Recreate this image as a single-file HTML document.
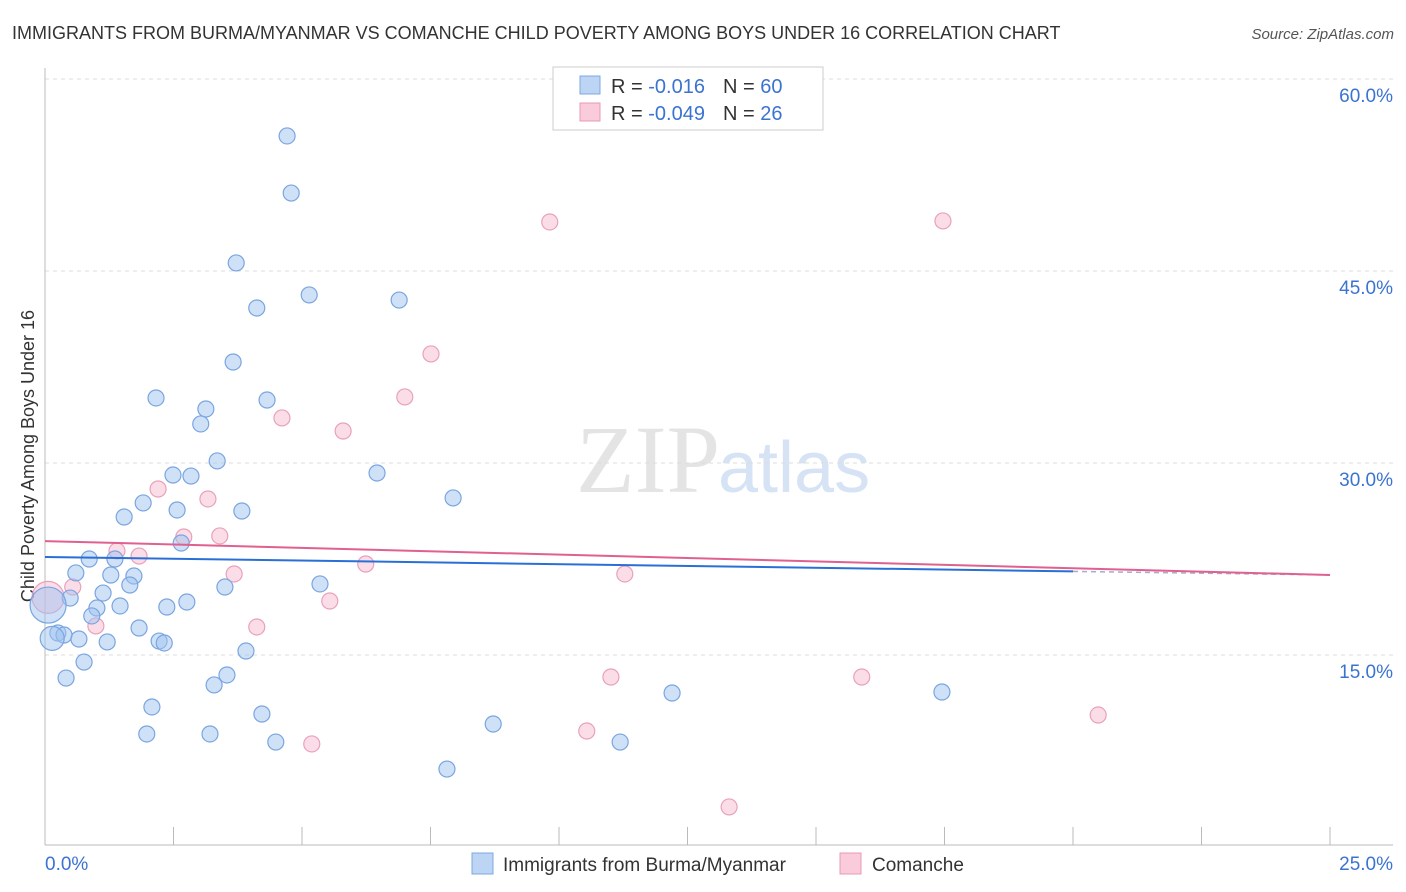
<!DOCTYPE html>
<html><head><meta charset="utf-8"><style>
body{margin:0;background:#fff;font-family:"Liberation Sans",sans-serif}
#wrap{position:relative;width:1406px;height:892px;overflow:hidden}
</style></head><body>
<div id="wrap">
<svg id="svg" width="1406" height="892" xmlns="http://www.w3.org/2000/svg">
<text x="12" y="39" font-size="18" fill="#333">IMMIGRANTS FROM BURMA/MYANMAR VS COMANCHE CHILD POVERTY AMONG BOYS UNDER 16 CORRELATION CHART</text>
<text x="1394" y="39" font-size="15" fill="#555" font-style="italic" text-anchor="end">Source: ZipAtlas.com</text>
<text x="720" y="492" font-size="96" fill="#e4e4e4" text-anchor="end" font-family="Liberation Serif,serif">ZIP</text>
<text x="718" y="492" font-size="72" fill="#d6e3f5">atlas</text>
<text transform="translate(34,456) rotate(-90)" font-size="18" fill="#333" text-anchor="middle">Child Poverty Among Boys Under 16</text>
<g id="grid"></g><g id="axes"></g><g id="marks"></g>
<g>
<rect x="553" y="67" width="270" height="63" fill="#fff" stroke="#ccc"/>
<rect x="580" y="76" width="20" height="18" fill="#bcd5f5" stroke="#7fa8e0"/>
<text x="611" y="93" font-size="20" fill="#333">R = <tspan fill="#3b73d1">-0.016</tspan><tspan dx="18">N = </tspan><tspan fill="#3b73d1">60</tspan></text>
<rect x="580" y="103" width="20" height="18" fill="#f9cbdb" stroke="#e899b5"/>
<text x="611" y="120" font-size="20" fill="#333">R = <tspan fill="#3b73d1">-0.049</tspan><tspan dx="18">N = </tspan><tspan fill="#3b73d1"> 26</tspan></text>
</g>
<g>
<rect x="472" y="853" width="21" height="21" fill="#bcd5f5" stroke="#7fa8e0"/>
<text x="503" y="871" font-size="19" fill="#333">Immigrants from Burma/Myanmar</text>
<rect x="840" y="853" width="21" height="21" fill="#f9cbdb" stroke="#e899b5"/>
<text x="872" y="871" font-size="19" fill="#333">Comanche</text>
</g>
</svg>
</div>
<script>
const xTicks=[0,2.5,5,7.5,10,12.5,15,17.5,20,22.5,25];
const yTicks=[15,30,45,60];
const blueX=[4.71,4.79,3.72,5.14,4.12,6.89,3.66,2.16,4.32,3.13,3.03,3.35,6.46,2.49,2.84,7.94,1.91,2.57,3.83,1.54,2.65,0.86,1.36,0.60,1.28,1.73,5.35,3.50,1.65,1.13,0.49,2.76,1.01,1.46,2.37,0.91,1.83,0.25,0.37,0.66,1.21,2.22,2.32,3.91,0.76,3.54,0.41,3.29,12.20,17.45,2.08,4.22,1.98,3.21,4.49,11.19,8.72,7.82,0.06,0.14];
const blueY=[55.55,51.09,45.63,43.13,42.11,42.73,37.89,35.08,34.92,34.22,33.05,30.16,29.22,29.06,28.98,27.27,26.88,26.33,26.25,25.78,23.75,22.5,22.5,21.41,21.25,21.17,20.55,20.31,20.47,19.84,19.45,19.14,18.67,18.83,18.75,18.05,17.11,16.72,16.56,16.25,16.02,16.09,15.94,15.31,14.45,13.44,13.2,12.66,12.03,12.11,10.94,10.39,8.83,8.83,8.2,8.2,9.61,6.09,18.9,16.3];
const blueR=[];for(let i=0;i<blueX.length;i++)blueR.push(i==58?18:(i==59?12:8));
const pinkX=[9.82,17.47,7.51,7.0,4.61,5.8,2.2,3.17,2.7,3.4,1.4,1.83,6.24,3.68,11.28,0.54,5.54,0.99,4.12,11.01,15.89,20.49,10.54,5.19,13.31,0.06];
const pinkY=[48.83,48.91,38.52,35.16,33.52,32.5,27.97,27.19,24.22,24.3,23.13,22.73,22.11,21.33,21.33,20.31,19.22,17.27,17.19,13.28,13.28,10.31,9.06,8.05,3.13,19.5];
const blueTrend=[22.66,21.25];
const pinkTrend=[23.9,21.25];
const X=v=>45+v/25*1285, Y=v=>847-v/15*192;
const NS='http://www.w3.org/2000/svg';
function mk(t,a,p){const e=document.createElementNS(NS,t);for(const k in a)e.setAttribute(k,a[k]);p.appendChild(e);return e;}
const grid=document.getElementById('grid'),axes=document.getElementById('axes'),marks=document.getElementById('marks');
yTicks.forEach(t=>{const l=mk('line',{x1:45,x2:1393,y1:Y(t),y2:Y(t),stroke:'#ddd','stroke-dasharray':'4,4'},grid);


const tx=mk('text',{x:1393,y:Y(t)+23,'font-size':19,fill:'#3b73d1','text-anchor':'end'},axes);tx.textContent=t.toFixed(1)+'%';

});
mk('line',{x1:45,x2:45,y1:68,y2:845,stroke:'#bbb'},axes);
mk('line',{x1:45,x2:1393,y1:845,y2:845,stroke:'#bbb'},axes);
xTicks.forEach(t=>{if(t>0){const l=mk('line',{x1:X(t),x2:X(t),y1:827,y2:845,stroke:'#bbb'},axes);

}});
const x0=mk('text',{x:45,y:870,'font-size':19,fill:'#3b73d1'},axes);x0.textContent='0.0%';


const x1=mk('text',{x:1393,y:870,'font-size':19,fill:'#3b73d1','text-anchor':'end'},axes);x1.textContent='25.0%';


pinkX.forEach((v,i)=>{const c=mk('circle',{cx:X(v),cy:Y(pinkY[i]),r:i==25?16:8,fill:'rgba(247,180,204,0.45)',stroke:'#eaa0bb','stroke-width':1.2},marks);

});
blueX.forEach((v,i)=>{const c=mk('circle',{cx:X(v),cy:Y(blueY[i]),r:blueR[i],fill:'rgba(160,195,240,0.5)',stroke:'#7aa5e0','stroke-width':1.2},marks);

});
const bl=mk('line',{x1:X(0),y1:Y(blueTrend[0]),x2:X(20),y2:Y(blueTrend[0]+(blueTrend[1]-blueTrend[0])*0.8),stroke:'#2a6fd6','stroke-width':2},marks);


const bd=mk('line',{x1:X(20),y1:Y(blueTrend[0]+(blueTrend[1]-blueTrend[0])*0.8),x2:X(25),y2:Y(blueTrend[1]),stroke:'#aac','stroke-width':1.5,'stroke-dasharray':'5,4'},marks);


const pl=mk('line',{x1:X(0),y1:Y(pinkTrend[0]),x2:X(25),y2:Y(pinkTrend[1]),stroke:'#e0608f','stroke-width':2},marks);


</script>
</body></html>
